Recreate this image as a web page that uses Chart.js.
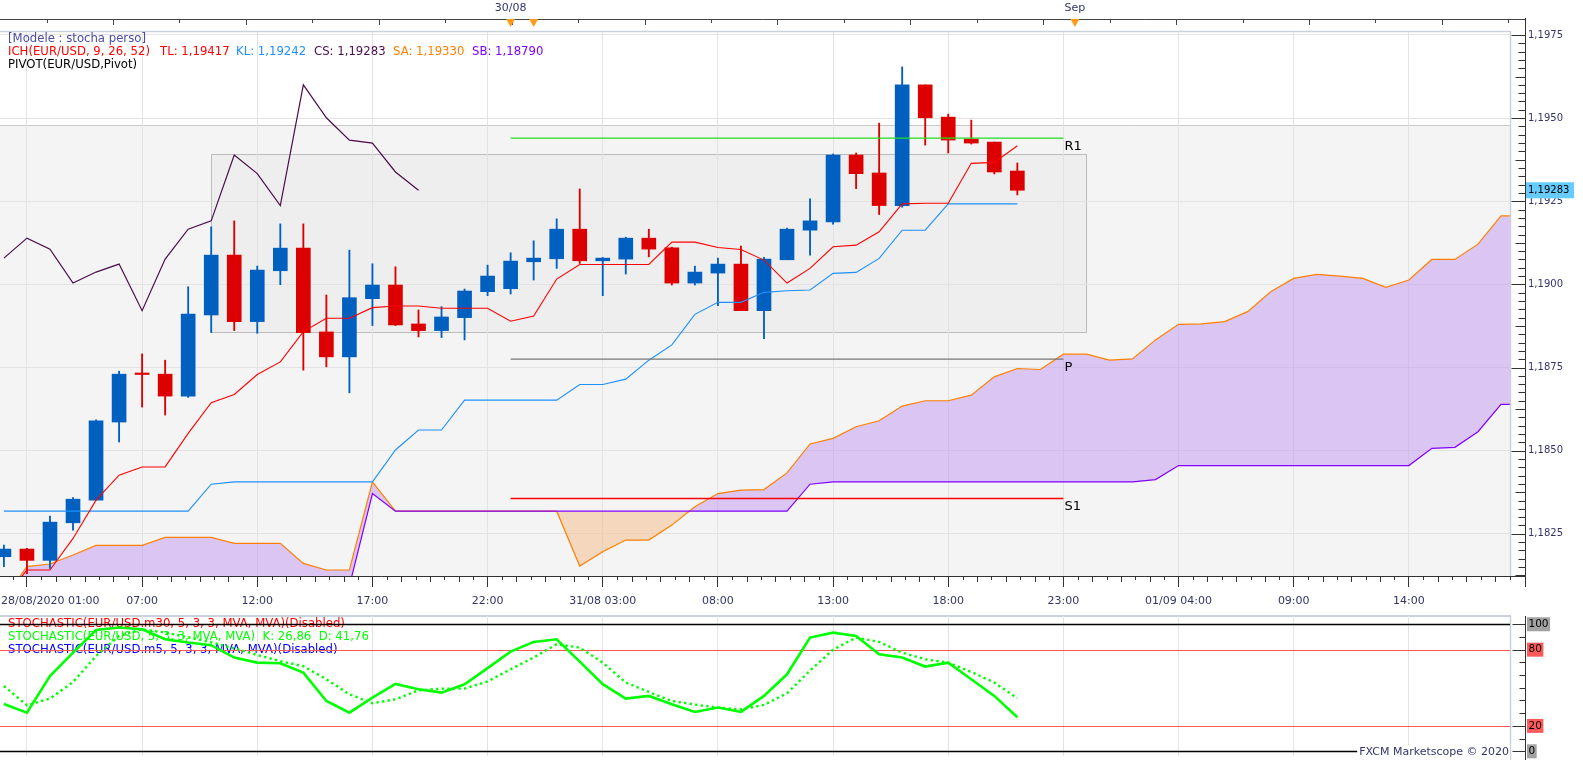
<!DOCTYPE html>
<html lang="en">
<head>
<meta charset="UTF-8">
<title>EUR/USD H1 - Ichimoku, Pivot, Stochastic</title>
<script src="https://cdn.jsdelivr.net/npm/chart.js"></script>
<style>
  body { margin: 0; padding: 0; background: #fff; }
  .wrap { position: relative; width: 1583px; height: 760px; overflow: hidden; }
  #priceChart { position: absolute; left: 0; top: 0; }
  #stochChart { position: absolute; left: 0; top: 606px; }
</style>
</head>
<body>
<div class="wrap">
  <canvas id="priceChart" width="1583" height="612"></canvas>
  <canvas id="stochChart" width="1583" height="154"></canvas>
</div>

<script>
// candles are indexed 0..44, the cloud runs 26 bars further to the right
const timeTickIdx = [1, 6, 11, 16, 21, 26, 31, 36, 41, 46, 51, 56, 61];
const timeTickLabels = ['28/08/2020 01:00', '07:00', '12:00', '17:00', '22:00', '31/08 03:00',
  '08:00', '13:00', '18:00', '23:00', '01/09 04:00', '09:00', '14:00'];
const priceTicks = [1.1825, 1.1850, 1.1875, 1.1900, 1.1925, 1.1950, 1.1975];
const stochLevels = [0, 20, 80, 100];
const topMarkIdx = [22, 23, 46.5];
const topMarkLabels = ['30/08', '', 'Sep'];

const opens = [1.18181, 1.18204, 1.18170, 1.18283, 1.18351, 1.18586, 1.18731, 1.18730, 1.18664, 1.18908,
  1.19088, 1.18888, 1.19041, 1.19109, 1.18857, 1.18782, 1.18957, 1.18998, 1.18881, 1.18861,
  1.18900, 1.18978, 1.18987, 1.19068, 1.19077, 1.19166, 1.19071, 1.19076, 1.19139, 1.19110,
  1.19004, 1.19034, 1.19061, 1.18921, 1.19074, 1.19163, 1.19188, 1.19389, 1.19335, 1.19237,
  1.19600, 1.19503, 1.19437, 1.19428, 1.19341];
const highs = [1.18216, 1.18206, 1.18303, 1.18359, 1.18593, 1.18739, 1.18791, 1.18772, 1.18993, 1.19173,
  1.19191, 1.19055, 1.19182, 1.19182, 1.18968, 1.19103, 1.19062, 1.19053, 1.18923, 1.18933,
  1.18986, 1.19058, 1.19095, 1.19131, 1.19197, 1.19287, 1.19081, 1.19142, 1.19166, 1.19112,
  1.19055, 1.19079, 1.19115, 1.19081, 1.19169, 1.19257, 1.19392, 1.19395, 1.19485, 1.19654,
  1.19600, 1.19512, 1.19494, 1.19428, 1.19365];
const lows = [1.18151, 1.18130, 1.18146, 1.18261, 1.18351, 1.18526, 1.18631, 1.18607, 1.18660, 1.18855,
  1.18861, 1.18853, 1.18999, 1.18742, 1.18752, 1.18674, 1.18876, 1.18876, 1.18842, 1.18840,
  1.18833, 1.18966, 1.18971, 1.19013, 1.19048, 1.19063, 1.18966, 1.19031, 1.19083, 1.18998,
  1.18998, 1.18936, 1.18921, 1.18837, 1.19074, 1.19088, 1.19181, 1.19288, 1.19210, 1.19232,
  1.19419, 1.19395, 1.19422, 1.19332, 1.19269];
const closes = [1.18204, 1.18170, 1.18285, 1.18354, 1.18590, 1.18730, 1.18729, 1.18664, 1.18911, 1.19088,
  1.18888, 1.19043, 1.19109, 1.18855, 1.18782, 1.18960, 1.18998, 1.18878, 1.18861, 1.18902,
  1.18980, 1.19025, 1.19070, 1.19079, 1.19166, 1.19071, 1.19079, 1.19139, 1.19106, 1.19004,
  1.19037, 1.19061, 1.18921, 1.19076, 1.19166, 1.19191, 1.19389, 1.19333, 1.19237, 1.19600,
  1.19501, 1.19434, 1.19425, 1.19338, 1.19283];

const tenkan = [1.18055, 1.18141, 1.18141, 1.18236, 1.18351, 1.18426, 1.18451, 1.18451, 1.18552, 1.18644,
  1.18669, 1.18729, 1.18767, 1.18858, 1.18898, 1.18898, 1.18930, 1.18935, 1.18935, 1.18928,
  1.18928, 1.18928, 1.18889, 1.18905, 1.19016, 1.19060, 1.19060, 1.19060, 1.19060, 1.19127,
  1.19127, 1.19111, 1.19105, 1.19073, 1.19004, 1.19048, 1.19113, 1.19118, 1.19158, 1.19242,
  1.19244, 1.19244, 1.19364, 1.19367, 1.19417];
const kijun = [1.18318, 1.18318, 1.18318, 1.18318, 1.18318, 1.18318, 1.18318, 1.18318, 1.18318, 1.18399,
  1.18406, 1.18406, 1.18406, 1.18406, 1.18406, 1.18406, 1.18406, 1.18502, 1.18562, 1.18562,
  1.18652, 1.18652, 1.18652, 1.18652, 1.18652, 1.18699, 1.18699, 1.18715, 1.18772, 1.18818,
  1.18910, 1.18946, 1.18946, 1.18976, 1.18981, 1.18983, 1.19033, 1.19036, 1.19078, 1.19163,
  1.19163, 1.19242, 1.19242, 1.19242, 1.19242];
// lagging span, plotted 26 bars back
const chikou = [1.19079, 1.19139, 1.19106, 1.19004, 1.19037, 1.19061, 1.18921, 1.19076, 1.19166, 1.19191,
  1.19389, 1.19333, 1.19237, 1.19600, 1.19501, 1.19434, 1.19425, 1.19338, 1.19283];
const senkouA = [1.18057, 1.18151, 1.18159, 1.18186, 1.18215, 1.18215, 1.18215, 1.18239, 1.18239, 1.18239,
  1.18221, 1.18221, 1.18221, 1.18161, 1.18141, 1.18141, 1.18406, 1.18318, 1.18318, 1.18318,
  1.18318, 1.18318, 1.18318, 1.18318, 1.18318, 1.18153, 1.18196, 1.18231, 1.18231, 1.18276,
  1.18331, 1.18371, 1.18381, 1.18383, 1.18433, 1.18520, 1.18537, 1.18572, 1.18590, 1.18634,
  1.18650, 1.18650, 1.18667, 1.18722, 1.18747, 1.18744, 1.18790, 1.18790, 1.18772, 1.18776,
  1.18833, 1.18880, 1.18881, 1.18888, 1.18918, 1.18978, 1.19018, 1.19030, 1.19025, 1.19018,
  1.18991, 1.19013, 1.19075, 1.19075, 1.19121, 1.19206, 1.19206];
const senkouB = [1.18093, 1.18093, 1.18093, 1.18093, 1.18093, 1.18093, 1.18093, 1.18093, 1.18093, 1.18093,
  1.18093, 1.18093, 1.18093, 1.18093, 1.18093, 1.18093, 1.18371, 1.18318, 1.18318, 1.18318,
  1.18318, 1.18318, 1.18318, 1.18318, 1.18318, 1.18318, 1.18318, 1.18318, 1.18318, 1.18318,
  1.18318, 1.18318, 1.18318, 1.18318, 1.18318, 1.18399, 1.18406, 1.18406, 1.18406, 1.18406,
  1.18406, 1.18406, 1.18406, 1.18406, 1.18406, 1.18406, 1.18406, 1.18406, 1.18406, 1.18406,
  1.18413, 1.18455, 1.18455, 1.18455, 1.18455, 1.18455, 1.18455, 1.18455, 1.18455, 1.18455,
  1.18455, 1.18455, 1.18507, 1.18510, 1.18557, 1.18639, 1.18639];
const senkouALast = 1.19330;   // values shown in the legend
const senkouBLast = 1.18790;

const pivotNames = ['R1', 'P', 'S1'];
const pivotLevels = [1.19440, 1.18775, 1.18356];
const pivotStart = 22;
const pivotEnd = 46;

const sessionBox = { from: 9, to: 47, high: 1.19391, low: 1.18856 };
const rangeTop = 1.19479;

const stochK = [37.3, 30.4, 59.3, 77.7, 95.5, 97.4, 96.1, 88.2, 85.6, 83.5,
  73.8, 69.8, 69.3, 61.9, 39.6, 30.4, 42.3, 53.0, 48.8, 46.2,
  52.8, 65.5, 78.5, 86.1, 88.2, 70.6, 52.8, 41.5, 43.6, 37.0,
  31.0, 34.4, 31.0, 43.6, 60.6, 89.5, 93.4, 90.8, 76.4, 73.8,
  66.7, 69.8, 56.7, 43.6, 26.86];
const stochD = [51.4, 36.2, 41.5, 54.5, 75.0, 90.8, 96.0, 93.5, 89.8, 85.8,
  81.0, 75.8, 71.0, 67.0, 56.7, 44.9, 37.8, 40.9, 48.0, 49.3,
  49.3, 55.0, 64.6, 73.8, 84.3, 81.6, 69.8, 54.1, 46.7, 39.6,
  36.8, 34.4, 33.0, 36.5, 45.7, 63.5, 80.0, 89.5, 86.1, 77.7,
  72.4, 69.8, 62.5, 54.1, 41.76];

// ---- look ----
const FONT = "'DejaVu Sans', sans-serif";
const AXIS_TXT = '#34346a';
const BLUE = '#0060c0';
const RED = '#dd0000';
const AXIS_LINE_X = 1525.5;
const xMin = -0.17, xMax = 65.39;

const fmt = (v, d) => v.toFixed(d).replace('.', ',');
const pts = arr => arr.map((v, i) => ({ x: i, y: v }));
const last = closes.length - 1;
const candleColors = opens.map((o, i) => (closes[i] >= o ? BLUE : RED));

function text(ctx, s, x, y, color, font, align) {
  ctx.font = font;
  ctx.fillStyle = color;
  ctx.textAlign = align || 'left';
  ctx.textBaseline = 'middle';
  ctx.fillText(s, x, y);
}
function hline(ctx, x1, x2, y, color, w) {
  ctx.beginPath();
  ctx.strokeStyle = color;
  ctx.lineWidth = w || 1;
  ctx.moveTo(x1, y);
  ctx.lineTo(x2, y);
  ctx.stroke();
}
function vline(ctx, x, y1, y2, color, w) {
  ctx.beginPath();
  ctx.strokeStyle = color;
  ctx.lineWidth = w || 1;
  ctx.moveTo(x, y1);
  ctx.lineTo(x, y2);
  ctx.stroke();
}

const priceDecor = {
  id: 'priceDecor',
  beforeDraw(chart) {
    const { ctx, chartArea: a, scales: { x, y } } = chart;
    ctx.save();
    ctx.fillStyle = '#fff';
    ctx.fillRect(0, 0, chart.width, chart.height);
    // grey range area + session box
    const top = Math.round(y.getPixelForValue(rangeTop)) + 0.5;
    ctx.fillStyle = '#f4f4f4';
    ctx.fillRect(a.left, top, a.width, a.bottom - top);
    hline(ctx, a.left, a.right, top, '#c8c8c8', 1);
    const bx1 = Math.round(x.getPixelForValue(sessionBox.from)) + 0.5;
    const bx2 = Math.round(x.getPixelForValue(sessionBox.to)) + 0.5;
    const by1 = Math.round(y.getPixelForValue(sessionBox.high)) + 0.5;
    const by2 = Math.round(y.getPixelForValue(sessionBox.low)) + 0.5;
    ctx.fillStyle = '#eeeeee';
    ctx.fillRect(bx1, by1, bx2 - bx1, by2 - by1);
    ctx.strokeStyle = '#bcbcbc';
    ctx.lineWidth = 1;
    ctx.strokeRect(bx1, by1, bx2 - bx1, by2 - by1);
    ctx.restore();
  },
  afterDraw(chart) {
    const { ctx, chartArea: a, scales: { x, y } } = chart;
    ctx.save();

    // plot frame
    hline(ctx, a.left, a.right, a.top + 0.5, '#c9d1dc', 1.5);
    vline(ctx, a.right + 0.5, a.top, a.bottom, '#c9d1dc', 1.5);

    // top date strip
    hline(ctx, 0, AXIS_LINE_X, 19.5, '#444', 1);
    let k = 0;
    for (let v = 1.85; v < xMax; v += 2.885, k++) {
      const px = Math.round(x.getPixelForValue(v)) + 0.5;
      vline(ctx, px, 19.5, k % 2 ? 25 : 23, '#444', 1);
    }
    topMarkIdx.forEach((v, i) => {
      const px = x.getPixelForValue(v);
      ctx.beginPath();
      ctx.fillStyle = '#ff9a1a';
      ctx.moveTo(px - 4.5, 19);
      ctx.lineTo(px + 4.5, 19);
      ctx.lineTo(px, 27);
      ctx.closePath();
      ctx.fill();
      if (topMarkLabels[i]) text(ctx, topMarkLabels[i], px, 8, AXIS_TXT, '11px ' + FONT, 'center');
    });

    // price axis line + ticks
    vline(ctx, AXIS_LINE_X, 18, a.bottom + 11, '#333', 1);
    const step = 0.00025;
    for (let n = Math.ceil(y.min / step); n * step <= y.max; n++) {
      const py = Math.round(y.getPixelForValue(n * step)) + 0.5;
      const len = n % 10 === 0 ? 14 : (n % 5 === 0 ? 10 : 7);
      hline(ctx, AXIS_LINE_X - len, AXIS_LINE_X, py, '#333', 1);
    }

    // time axis line, minor ticks and labels
    hline(ctx, 0, AXIS_LINE_X, a.bottom + 0.5, '#333', 1);
    for (let n = -2; ; n++) {
      const v = timeTickIdx[0] + n * 0.625;
      if (v > xMax) break;
      if (v < xMin || n % 8 === 0) continue;
      const px = Math.round(x.getPixelForValue(v)) + 0.5;
      vline(ctx, px, a.bottom, a.bottom + (n % 2 ? 4 : 6), '#333', 1);
    }
    ctx.font = '11px ' + FONT;
    timeTickIdx.forEach((v, i) => {
      const w = ctx.measureText(timeTickLabels[i]).width;
      const left = Math.max(1, x.getPixelForValue(v) - w / 2);
      text(ctx, timeTickLabels[i], left, 601.5, AXIS_TXT, '11px ' + FONT, 'left');
    });

    // pivot labels
    pivotLevels.forEach((lv, i) => {
      ctx.font = '13px ' + FONT;
      ctx.fillStyle = '#000';
      ctx.textAlign = 'left';
      ctx.textBaseline = 'top';
      ctx.fillText(pivotNames[i], x.getPixelForValue(pivotEnd) + 1, y.getPixelForValue(lv) + 2);
    });

    // last price tag
    const py = y.getPixelForValue(closes[last]);
    ctx.fillStyle = '#66ccff';
    ctx.fillRect(1526, py - 8, 48, 16);
    text(ctx, fmt(closes[last], 5), 1528, py, '#000', '10px ' + FONT, 'left');

    // indicator legend
    const lf = '11.7px ' + FONT;
    text(ctx, '[Modele : stocha perso]', 8, 39, '#4b4ba5', lf);
    text(ctx, 'ICH(EUR/USD, 9, 26, 52)', 8, 52, '#ff0000', lf);
    text(ctx, 'TL: ' + fmt(tenkan[last], 5), 160, 52, '#ff0000', lf);
    text(ctx, 'KL: ' + fmt(kijun[last], 5), 236, 52, '#1e90ff', lf);
    text(ctx, 'CS: ' + fmt(closes[last], 5), 314, 52, '#4c0c4c', lf);
    text(ctx, 'SA: ' + fmt(senkouALast, 5), 393, 52, '#ff8000', lf);
    text(ctx, 'SB: ' + fmt(senkouBLast, 5), 472, 52, '#8000ff', lf);
    text(ctx, 'PIVOT(EUR/USD,Pivot)', 8, 65, '#000', lf);
    ctx.restore();
  }
};

const lineDs = (label, data, color, order, extra) => Object.assign({
  label, data, borderColor: color, borderWidth: 1.1, pointRadius: 0, tension: 0, fill: false, order
}, extra || {});

const pivotColors = ['#22dd22', '#777777', '#ff0000'];
const pivotSets = pivotLevels.map((lv, i) => lineDs(pivotNames[i],
  [{ x: pivotStart, y: lv }, { x: pivotEnd, y: lv }], pivotColors[i], 1, { borderWidth: 1.3 }));

new Chart(document.getElementById('priceChart'), {
  type: 'line',
  data: {
    datasets: [
      lineDs('SA', pts(senkouA), '#ff8000', 10, {
        borderWidth: 1.2,
        fill: { target: 1, above: 'rgba(194,150,242,0.5)', below: 'rgba(246,192,146,0.55)' }
      }),
      lineDs('SB', pts(senkouB), '#8000ff', 9, { borderWidth: 1.2 }),
      {
        type: 'bar', label: 'wick', order: 8, grouped: false, barThickness: 1.2,
        data: opens.map((o, i) => ({ x: i, y: [lows[i], highs[i]] })),
        backgroundColor: candleColors
      },
      {
        type: 'bar', label: 'body', order: 7, grouped: false, barThickness: 14, minBarLength: 1.5,
        data: opens.map((o, i) => ({ x: i, y: [o, closes[i]] })),
        backgroundColor: candleColors
      },
      lineDs('TL', pts(tenkan), '#ff0000', 3),
      lineDs('KL', pts(kijun), '#1e90ff', 3),
      lineDs('CS', pts(chikou), '#4c0c4c', 3, { borderWidth: 1.2 }),
      ...pivotSets
    ]
  },
  options: {
    responsive: false,
    animation: false,
    events: [],
    layout: { padding: { top: 31, left: 0, right: 0, bottom: 0 } },
    plugins: { legend: { display: false }, tooltip: { enabled: false } },
    scales: {
      x: {
        type: 'linear', min: xMin, max: xMax, offset: false,
        afterBuildTicks: s => { s.ticks = timeTickIdx.map(v => ({ value: v })); },
        afterFit: s => { s.height = 36; s.paddingLeft = 0; s.paddingRight = 0; },
        grid: { offset: false, color: '#e3e3e3', drawTicks: true, tickLength: 11, tickColor: '#333' },
        border: { display: false },
        ticks: { display: false }
      },
      y: {
        type: 'linear', position: 'right', min: 1.18123, max: 1.19762,
        afterBuildTicks: s => { s.ticks = priceTicks.map(v => ({ value: v })); },
        afterFit: s => { s.width = 73; },
        grid: { color: '#e3e3e3', drawTicks: false },
        border: { display: false },
        ticks: { padding: 18, color: AXIS_TXT, font: { family: 'DejaVu Sans', size: 10 }, callback: v => fmt(v, 4) }
      }
    }
  },
  plugins: [priceDecor]
});

const stochDecor = {
  id: 'stochDecor',
  beforeDraw(chart) {
    const { ctx, chartArea: a } = chart;
    ctx.save();
    ctx.fillStyle = '#fff';
    ctx.fillRect(0, 0, chart.width, chart.height);
    hline(ctx, 0, a.right + 1, a.top, '#c9d1dc', 2);
    vline(ctx, a.right + 0.5, a.top, chart.height, '#c9d1dc', 1.5);
    ctx.restore();
  },
  beforeDatasetsDraw(chart) {
    const { ctx, chartArea: a, scales: { y } } = chart;
    ctx.save();
    const f = '11.7px ' + FONT;
    text(ctx, 'STOCHASTIC(EUR/USD.m30, 5, 3, 3, MVA, MVA)(Disabled)', 8, 17.5, '#ff0000', f);
    text(ctx, 'STOCHASTIC(EUR/USD, 5, 3, 3, MVA, MVA)  K: ' + fmt(stochK[last], 2) + '  D: ' + fmt(stochD[last], 2),
      8, 31, '#00ff00', f);
    text(ctx, 'STOCHASTIC(EUR/USD.m5, 5, 3, 3, MVA, MVA)(Disabled)', 8, 44, '#0000ff', f);
    stochLevels.forEach(lv => {
      const py = Math.round(y.getPixelForValue(lv)) + 0.5;
      const edge = lv === 0 || lv === 100;
      hline(ctx, a.left, a.right, py, edge ? '#000' : '#ff5555', edge ? 1.6 : 1.1);
    });
    ctx.restore();
  },
  afterDraw(chart) {
    const { ctx, chartArea: a, scales: { y } } = chart;
    ctx.save();
    // copyright tag
    const f = '11px ' + FONT;
    ctx.font = f;
    const s = 'FXCM Marketscope \u00a9 2020';
    const w = ctx.measureText(s).width;
    ctx.fillStyle = '#fff';
    ctx.fillRect(a.right - w - 3, 139, w + 3, 15);
    text(ctx, s, a.right - 1, 146, AXIS_TXT, f, 'right');
    // axis with level tags
    vline(ctx, AXIS_LINE_X, a.top, chart.height, '#333', 1);
    for (let v = 0; v <= 100; v += 10) {
      const py = Math.round(y.getPixelForValue(v)) + 0.5;
      hline(ctx, AXIS_LINE_X - (stochLevels.includes(v) ? 13 : 6), AXIS_LINE_X, py, '#333', 1);
    }
    ctx.font = '10.5px ' + FONT;
    stochLevels.forEach(lv => {
      const py = y.getPixelForValue(lv);
      const lab = String(lv);
      const tw = ctx.measureText(lab).width;
      ctx.fillStyle = (lv === 20 || lv === 80) ? '#ff5a5a' : '#a3a3a3';
      ctx.fillRect(1527, py - 7, tw + 3, 14);
      text(ctx, lab, 1528.5, py, '#000', '10.5px ' + FONT, 'left');
    });
    ctx.restore();
  }
};

new Chart(document.getElementById('stochChart'), {
  type: 'line',
  data: {
    datasets: [
      lineDs('D', pts(stochD), '#00ff00', 2, { borderWidth: 2.4, borderDash: [2.4, 3.2] }),
      lineDs('K', pts(stochK), '#00ff00', 1, { borderWidth: 2.6 })
    ]
  },
  options: {
    responsive: false,
    animation: false,
    events: [],
    layout: { padding: { top: 10, left: 0, right: 0, bottom: 0 } },
    plugins: { legend: { display: false }, tooltip: { enabled: false } },
    scales: {
      x: {
        type: 'linear', min: xMin, max: xMax, offset: false,
        afterBuildTicks: s => { s.ticks = timeTickIdx.map(v => ({ value: v })); },
        afterFit: s => { s.height = 4; s.paddingLeft = 0; s.paddingRight = 0; },
        grid: { color: '#e3e3e3', drawTicks: false },
        border: { display: false },
        ticks: { display: false }
      },
      y: {
        type: 'linear', position: 'right', min: -3.7, max: 106.5,
        afterFit: s => { s.width = 73; },
        grid: { display: false },
        border: { display: false },
        ticks: { display: false }
      }
    }
  },
  plugins: [stochDecor]
});
</script>
</body>
</html>
